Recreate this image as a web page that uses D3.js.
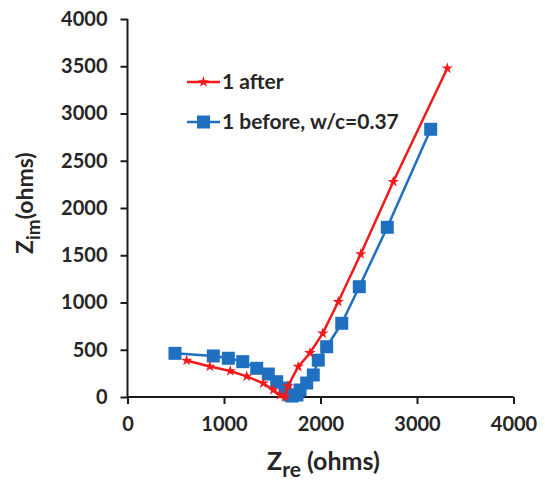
<!DOCTYPE html>
<html>
<head>
  <meta charset="utf-8">
  <style>
    body { margin: 0; background: #fff; }
    svg { background-color: #fff; }
    svg text { font-family: Lato, "Open Sans", sans-serif; font-weight: bold; fill: #262626; }
    .axis path, .axis line { stroke: #1a1a1a; stroke-width: 2px; }
    .axis text { font-size: 20px; }
  </style>
</head>
<body>
  <div id="chart"></div>
  <script src="https://d3js.org/d3.v7.min.js"></script>
  <script>
    // series (ohms)
    var afterRe = [613, 853, 1065, 1235, 1407, 1511, 1580, 1632, 1663, 1769, 1891, 2023, 2184, 2417, 2754, 3314];
    var afterIm = [386, 323, 275, 219, 145, 74, 21, 0, 116, 321, 466, 674, 1008, 1513, 2278, 3478];
    var beforeRe = [492, 889, 1045, 1194, 1339, 1459, 1546, 1632, 1684, 1705, 1756, 1788, 1857, 1925, 1977, 2064, 2220, 2402, 2692, 3142];
    var beforeIm = [462, 434, 410, 374, 304, 243, 162, 95, 21, 10, 21, 74, 148, 233, 390, 532, 780, 1167, 1796, 2833];
    var xTicks = [0, 1000, 2000, 3000, 4000];
    var yTicks = [0, 500, 1000, 1500, 2000, 2500, 3000, 3500, 4000];
    var seriesNames = ["1 after", "1 before, w/c=0.37"];

    var width = 545,
      height = 483;

    var svg = d3.select("#chart").append("svg")
      .attr("width", width)
      .attr("height", height);

    var x = d3.scaleLinear().domain([0, 4000]).range([127.5, 513.5]);
    var y = d3.scaleLinear().domain([0, 4000]).range([397, 19]);

    var xAxis = svg.append("g")
      .attr("class", "axis")
      .attr("transform", "translate(0," + y(0) + ")")
      .call(d3.axisBottom(x).tickValues(xTicks).tickSize(7).tickSizeOuter(0).tickPadding(13).tickFormat(d3.format("d")));
    xAxis.select(".domain").attr("d", "M" + x(0) + ",0H" + x(4000));

    var yAxis = svg.append("g")
      .attr("class", "axis")
      .attr("transform", "translate(" + x(0) + ",0)")
      .call(d3.axisLeft(y).tickValues(yTicks).tickSize(7).tickSizeOuter(0).tickPadding(13).tickFormat(d3.format("d")));
    yAxis.select(".domain").attr("d", "M0," + y(0) + "V" + y(4000));

    var afterData = afterRe.map(function(d, i) { return [d, afterIm[i]]; });
    var beforeData = beforeRe.map(function(d, i) { return [d, beforeIm[i]]; });

    var line = d3.line()
      .x(function(d) { return x(d[0]); })
      .y(function(d) { return y(d[1]); });

    var red = "#f21a1a",
      blue = "#1f70c1";

    var star = d3.symbol().type(d3.symbolStar).size(40);

    // blue (before) under red
    svg.append("path")
      .datum(beforeData)
      .attr("d", line)
      .attr("fill", "none")
      .attr("stroke", blue)
      .attr("stroke-width", 2.5);

    svg.selectAll(".sq")
      .data(beforeData)
      .enter().append("rect")
      .attr("class", "sq")
      .attr("x", function(d) { return x(d[0]) - 6.5; })
      .attr("y", function(d) { return y(d[1]) - 6.5; })
      .attr("width", 13)
      .attr("height", 13)
      .attr("fill", blue);

    svg.append("path")
      .datum(afterData)
      .attr("d", line)
      .attr("fill", "none")
      .attr("stroke", red)
      .attr("stroke-width", 2.5);

    svg.selectAll(".st")
      .data(afterData)
      .enter().append("path")
      .attr("class", "st")
      .attr("d", star)
      .attr("transform", function(d) { return "translate(" + x(d[0]) + "," + y(d[1]) + ")"; })
      .attr("fill", red);

    // legend
    var legend = svg.append("g");
    var leg = legend.selectAll("g")
      .data(seriesNames)
      .enter().append("g")
      .attr("transform", function(d, i) { return "translate(187," + (82 + i * 40) + ")"; });

    leg.append("line")
      .attr("x1", 0).attr("x2", 33)
      .attr("stroke", function(d, i) { return i == 0 ? red : blue; })
      .attr("stroke-width", 2.5);

    leg.filter(function(d, i) { return i == 0; }).append("path")
      .attr("d", star)
      .attr("transform", "translate(16.5,0)")
      .attr("fill", red);

    leg.filter(function(d, i) { return i == 1; }).append("rect")
      .attr("x", 10).attr("y", -6.5)
      .attr("width", 13).attr("height", 13)
      .attr("fill", blue);

    leg.append("text")
      .attr("x", 35)
      .attr("y", 7)
      .style("font-size", "21px")
      .text(function(d) { return d; });

    // axis titles
    var xt = svg.append("text")
      .attr("x", 267)
      .attr("y", 470)
      .style("font-size", "25px");
    xt.append("tspan").text("Z");
    xt.append("tspan").attr("dy", 7).style("font-size", "21px").text("re");
    xt.append("tspan").attr("dy", -7).text(" (ohms)");

    var yt = svg.append("text")
      .attr("transform", "translate(33,254) rotate(-90)")
      .style("font-size", "23px");
    yt.append("tspan").text("Z");
    yt.append("tspan").attr("dy", 7).style("font-size", "19px").text("im");
    yt.append("tspan").attr("dy", -7).text("(ohms)");
  </script>
</body>
</html>
